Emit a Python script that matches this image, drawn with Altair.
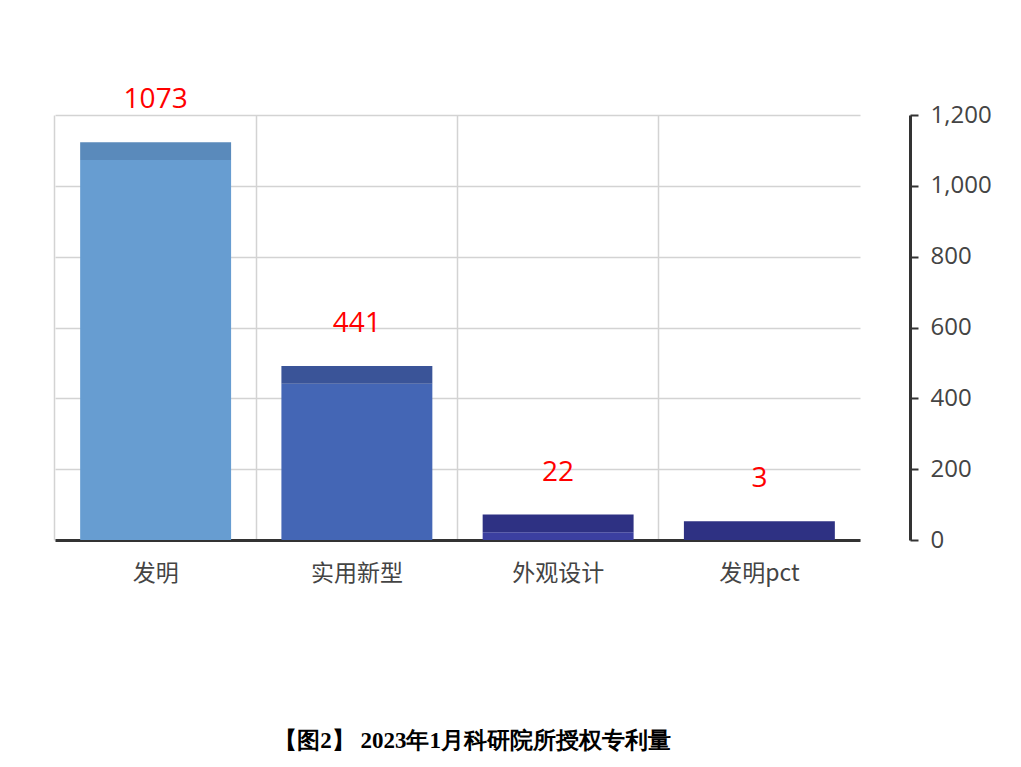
import pandas as pd
import altair as alt

categories = ['发明', '实用新型', '外观设计', '发明pct']
counts = [1073, 441, 22, 3]
y_ticks = [0, 200, 400, 600, 800, 1000, 1200]
title_text = '【图2】 2023年1月科研院所授权专利量'

df = pd.DataFrame({'category': categories, 'count': counts})

front_colors = ['#679dd1', '#4466b5', '#3b3fa0', '#2e3183']
top_colors = ['#5a8abb', '#3a5498', '#2e3183', '#2e3183']

x_scale = alt.Scale(domain=categories, paddingInner=0.25, paddingOuter=0.125)
y_scale = alt.Scale(domain=[0, 1200])

x_main = alt.X('category:N', sort=categories, scale=x_scale, axis=alt.Axis(
    title=None, orient='bottom', labelAngle=0, labelFontSize=23, labelColor='#444',
    labelFont='Noto Sans CJK SC', labelPadding=22, ticks=False,
    domainColor='#333', domainWidth=3, grid=False))

y_main = alt.Y('count:Q', scale=y_scale, axis=alt.Axis(
    title=None, orient='right', values=y_ticks, format=',d', offset=50,
    labelFontSize=24, labelColor='#444', labelFont='Open Sans',
    labelPadding=12, domainColor='#333', domainWidth=3,
    tickColor='#333', tickWidth=2, tickSize=8,
    grid=True, gridColor='#d3d3d3', gridWidth=1.5))

base = alt.Chart(df)

# front faces
front = base.mark_bar().encode(
    x=x_main,
    y=y_main,
    color=alt.Color('category:N', scale=alt.Scale(domain=categories, range=front_colors), legend=None),
)

# darker top face, a fake bit of depth
top = base.mark_bar().transform_calculate(
    top='datum.count + 50'
).encode(
    x=alt.X('category:N', sort=categories, scale=x_scale, axis=None),
    y=alt.Y('count:Q', scale=y_scale),
    y2='top:Q',
    color=alt.Color('category:N', scale=alt.Scale(domain=categories, range=top_colors), legend=None),
)

labels = base.mark_text(
    baseline='bottom', dy=-28, fontSize=28, color='#ff0000', font='Open Sans'
).transform_calculate(
    top='datum.count + 50'
).encode(
    x=alt.X('category:N', sort=categories, scale=x_scale, axis=None),
    y=alt.Y('top:Q', scale=y_scale),
    text='count:Q',
)

# vertical grid lines between the categories
vgrid = base.mark_point(opacity=0).encode(
    x=alt.X('category:N', sort=categories, scale=x_scale, axis=alt.Axis(
        title=None, orient='bottom', labels=False, ticks=False, domain=False, grid=True,
        gridColor='#d3d3d3', gridWidth=1.5, bandPosition=-0.1667)),
    y=alt.Y('count:Q', scale=y_scale),
)

chart = alt.layer(vgrid, front, top, labels).resolve_axis(
    x='independent'
).resolve_scale(
    color='independent'
).properties(
    width=805,
    height=425,
    autosize='none',
    padding={'left': 47, 'top': 107, 'right': 150, 'bottom': 215},
    title=alt.TitleParams(
        title_text, orient='bottom', offset=145, dx=15,
        font='Liberation Serif', fontSize=23, fontWeight='bold', color='#000'),
).configure_view(
    stroke=None
)

chart.save("out.html", embed_options={"renderer": "svg", "actions": False})
